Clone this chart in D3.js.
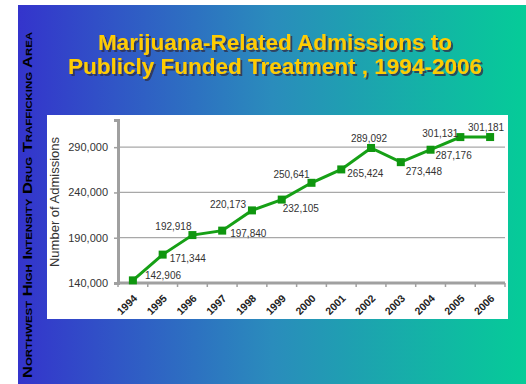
<!DOCTYPE html>
<html>
<head>
<meta charset="utf-8">
<script src="https://cdn.jsdelivr.net/npm/d3@7"></script>
<style>
  html, body { margin: 0; padding: 0; background: #ffffff; }
  svg { display: block; font-family: "Liberation Sans", Arial, sans-serif; }
</style>
</head>
<body>
<svg id="chart" width="526" height="384"></svg>
<script>
// Yearly admissions data
const years = ["1994","1995","1996","1997","1998","1999","2000","2001","2002","2003","2004","2005","2006"];
const admissions = [142906, 171344, 192918, 197840, 220173, 232105, 250641, 265424, 289092, 273448, 287176, 301131, 301181];
const yTicks = [140000, 190000, 240000, 290000];

// Label placement around each marker (dx, dy of label centre / start)
const labelAnchor = ["start","start","middle","start","middle","start","middle","start","middle","start","start","middle","middle"];
const labelDx = [12, 7, -19, 8, -24, 1, -20, 6, -2, 5, 5, -20, -4];
const labelDy = [-5, 4, -9, 3, -6, 9, -8, 4, -9, 9, 6, -4, -10];

const svg = d3.select("#chart");

// Slide background gradient and title shadow
const defs = svg.append("defs");
const grad = defs.append("linearGradient").attr("id", "bg").attr("x1", "0%").attr("x2", "100%").attr("y1", "0%").attr("y2", "0%");
grad.append("stop").attr("offset", "0%").attr("stop-color", "#3434cc");
grad.append("stop").attr("offset", "50%").attr("stop-color", "#2a8cbc");
grad.append("stop").attr("offset", "100%").attr("stop-color", "#05cc98");

defs.append("filter").attr("id", "shadow").attr("x", "-5%").attr("y", "-20%").attr("width", "110%").attr("height", "150%")
  .append("feDropShadow").attr("dx", 2).attr("dy", 2).attr("stdDeviation", 0.4)
  .attr("flood-color", "#30304a").attr("flood-opacity", 0.8);

svg.append("rect").attr("x", 18).attr("y", 5).attr("width", 508).attr("height", 379).attr("fill", "url(#bg)");

// Vertical side caption
svg.append("text")
  .attr("transform", "translate(32,205) rotate(-90)")
  .attr("text-anchor", "middle")
  .attr("font-size", 13)
  .attr("font-weight", "bold")
  .style("font-variant", "small-caps")
  .attr("fill", "#000")
  .attr("textLength", 346)
  .attr("lengthAdjust", "spacingAndGlyphs")
  .text("Northwest High Intensity Drug Trafficking Area");

// Title
const titleLines = ["Marijuana-Related Admissions to", "Publicly Funded Treatment , 1994-2006"];
svg.append("g").attr("filter", "url(#shadow)")
  .selectAll("text").data(titleLines).join("text")
  .attr("x", 275).attr("y", (d, i) => 50 + i * 24)
  .attr("text-anchor", "middle").attr("font-size", 22.5).attr("font-weight", "bold")
  .attr("fill", "#ffcc00").text(d => d);

// White chart panel
svg.append("rect").attr("x", 47).attr("y", 115).attr("width", 461).attr("height", 204).attr("fill", "#ffffff");

const plotLeft = 118, plotRight = 505, plotTop = 120, plotBottom = 283;

const x = d3.scaleBand().domain(years).range([plotLeft, plotRight]);
const y = d3.scaleLinear().domain([140000, 320000]).range([plotBottom, plotTop]);

// Gridlines
svg.append("g").selectAll("line").data(yTicks.filter(v => v > 140000)).join("line")
  .attr("x1", plotLeft).attr("x2", plotRight)
  .attr("y1", d => y(d)).attr("y2", d => y(d))
  .attr("stroke", "#a8a8a8").attr("stroke-width", 1.2);

// Y axis
const fmt = d3.format(",");
const yAxis = svg.append("g").attr("transform", `translate(${plotLeft},0)`)
  .call(d3.axisLeft(y).tickValues(yTicks).tickFormat(fmt).tickSize(4).tickPadding(6));
yAxis.select(".domain").attr("stroke", "#a0a0a0").attr("stroke-width", 3);
yAxis.selectAll(".tick line").attr("stroke", "#a0a0a0").attr("stroke-width", 1.5);
yAxis.selectAll(".tick text").attr("font-size", 11).attr("fill", "#333")
  .attr("font-family", "'Liberation Sans', Arial, sans-serif");

// X axis: ticks at category boundaries
const xAxis = svg.append("g").attr("transform", `translate(0,${plotBottom})`);
xAxis.append("line").attr("x1", plotLeft).attr("x2", plotRight).attr("stroke", "#a0a0a0").attr("stroke-width", 3);
const boundaries = years.map(d => x(d)).concat([plotRight]);
xAxis.selectAll("line.tk").data(boundaries).join("line").attr("class", "tk")
  .attr("x1", d => d).attr("x2", d => d).attr("y1", 0).attr("y2", 4)
  .attr("stroke", "#a0a0a0").attr("stroke-width", 1.5);
xAxis.selectAll("text").data(years).join("text")
  .attr("transform", d => `translate(${x(d) + x.bandwidth() / 2 + 5},${16}) rotate(-45)`)
  .attr("text-anchor", "end")
  .attr("font-size", 10.5).attr("font-weight", "bold").attr("fill", "#222")
  .text(d => d);

// Y axis title
svg.append("text")
  .attr("transform", "translate(59,202) rotate(-90)")
  .attr("text-anchor", "middle").attr("font-size", 13).attr("fill", "#333")
  .text("Number of Admissions");

// Series line and markers
const cx = d => x(d) + x.bandwidth() / 2;
const pts = years.map((yr, i) => ({ yr, v: admissions[i], i }));
svg.append("path").datum(pts)
  .attr("d", d3.line().x(d => cx(d.yr)).y(d => y(d.v)))
  .attr("fill", "none").attr("stroke", "#16a016").attr("stroke-width", 3);
svg.append("g").selectAll("rect").data(pts).join("rect")
  .attr("x", d => cx(d.yr) - 4).attr("y", d => y(d.v) - 4)
  .attr("width", 8).attr("height", 8).attr("fill", "#0f960f");

// Value labels
svg.append("g").selectAll("text").data(pts).join("text")
  .attr("x", d => cx(d.yr) + labelDx[d.i])
  .attr("y", d => y(d.v) + labelDy[d.i])
  .attr("dy", "0.35em")
  .attr("text-anchor", d => labelAnchor[d.i])
  .attr("font-size", 10).attr("fill", "#333")
  .text(d => fmt(d.v));
</script>
</body>
</html>
